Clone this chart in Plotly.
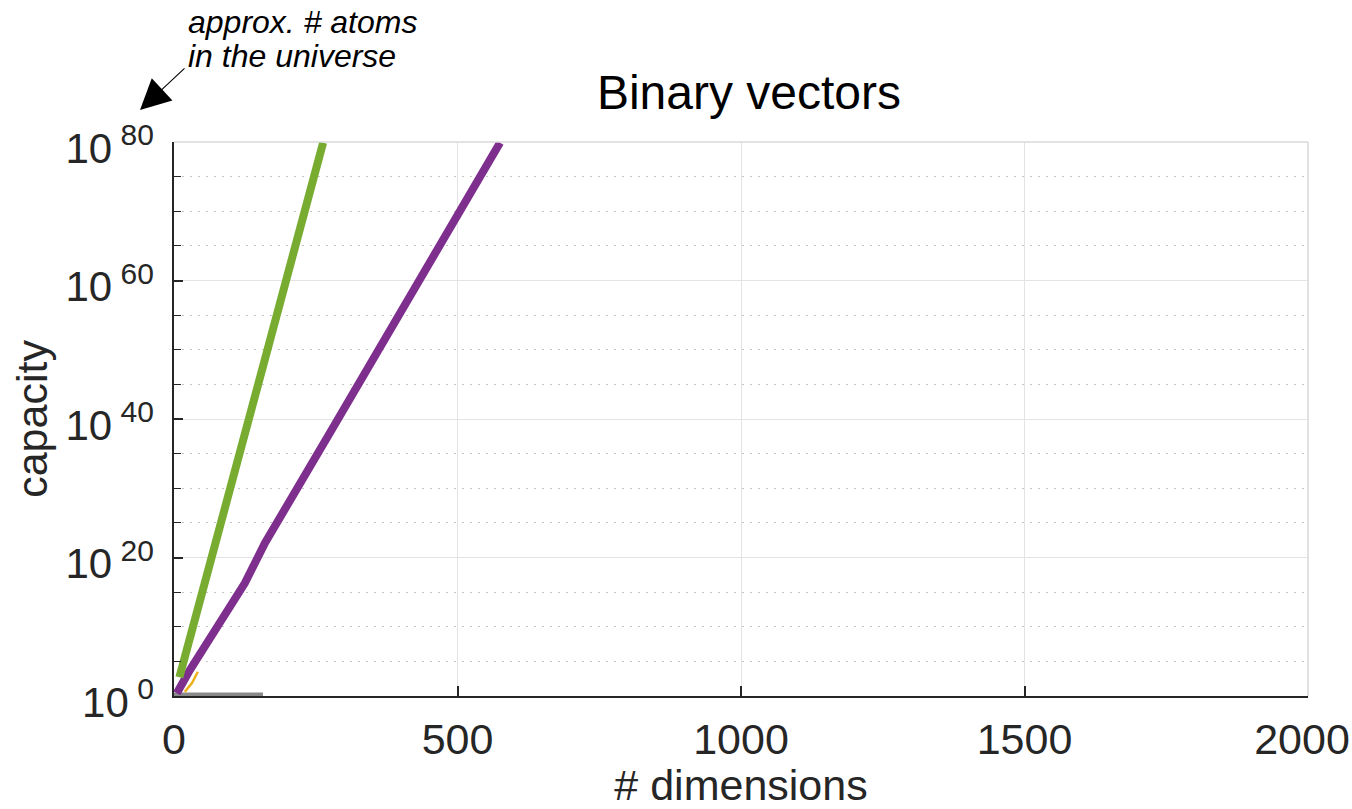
import numpy as np
import plotly.graph_objects as go

# ---- data (x = # dimensions, values as log10(capacity)) ----
green_dims = [9.5, 67, 143, 263]
green_log10 = [2.7, 20.1, 42.8, 79.9]

purple_dims = [5, 28, 125, 160.5, 280, 439, 575]
purple_log10 = [0.4, 3.75, 16.3, 22.1, 38.7, 61.0, 79.9]

orange_dims = [19, 32, 42]
orange_log10 = [0.6, 1.9, 3.5]

gray_dims = [0, 157]
gray_log10 = [0, 0]

x_ticks = [0, 500, 1000, 1500, 2000]
x_ticktext = ["0", "500", "1000", "1500", "2000\u00a0"]
y_major_exp = [0, 20, 40, 60, 80]
y_minor_exp = [e for e in range(0, 81, 5) if e % 20 != 0]

FONT = "Liberation Sans, Arial, sans-serif"
TXT = "#262626"

def pw(v):
    return [float(10.0 ** e) for e in v]

fig = go.Figure()
fig.add_trace(go.Scatter(x=gray_dims, y=pw(gray_log10), mode="lines",
                         line=dict(color="#8a8a8a", width=7), cliponaxis=False,
                         showlegend=False))
fig.add_trace(go.Scatter(x=orange_dims, y=pw(orange_log10), mode="lines",
                         line=dict(color="#EDB120", width=2.5), showlegend=False))
fig.add_trace(go.Scatter(x=purple_dims, y=pw(purple_log10), mode="lines",
                         line=dict(color="#7E2F8E", width=8), showlegend=False))
fig.add_trace(go.Scatter(x=green_dims, y=pw(green_log10), mode="lines",
                         line=dict(color="#77AC30", width=8), showlegend=False))

fig.update_layout(
    width=1352, height=809,
    margin=dict(l=174, r=44, t=142, b=113, autoexpand=False),
    paper_bgcolor="white", plot_bgcolor="white",
    font=dict(family=FONT, color=TXT, size=42),
    title=dict(text="Binary vectors", x=749 / 1352, xanchor="center",
               y=1 - 92 / 809, yanchor="middle",
               font=dict(family=FONT, size=48, color="black")),
    xaxis=dict(
        range=[0, 2000], tickvals=x_ticks, ticktext=x_ticktext,
        automargin=False, ticklabeloverflow="allow",
        showgrid=True, gridcolor="#e3e3e3", gridwidth=1.2,
        zeroline=False, showline=True, linecolor="#262626", linewidth=1.5,
        ticks="inside", ticklen=10, tickwidth=1.5, tickcolor="#262626",
        ticklabelstandoff=5,
        tickfont=dict(size=43, color=TXT),
        title=dict(text="# dimensions", font=dict(size=43, color=TXT), standoff=24),
    ),
    yaxis=dict(
        type="log", range=[0, 80], automargin=False,
        tickvals=pw(y_major_exp),
        ticktext=["10<sup><span style='font-size:30px'> %d</span></sup>" % e
                  for e in y_major_exp],
        showgrid=True, gridcolor="#e3e3e3", gridwidth=1.2,
        zeroline=False, showline=True, linecolor="#262626", linewidth=1.5,
        ticks="inside", ticklen=9, tickwidth=1.5, tickcolor="#262626",
        ticklabelstandoff=10, ticklabelshift=6,
        tickfont=dict(size=42, color=TXT),
        minor=dict(tickvals=pw(y_minor_exp), ticks="inside", ticklen=7,
                   tickcolor="#262626", tickwidth=1.2,
                   showgrid=True, gridcolor="#c4c4c4", griddash="2px,6px", gridwidth=1.3),
        title=dict(text="capacity", font=dict(size=43, color=TXT), standoff=4),
    ),
    shapes=[dict(type="line", xref="paper", yref="paper", x0=0, x1=1, y0=1, y1=1,
                 line=dict(color="#d9d9d9", width=1.5)),
            dict(type="line", xref="paper", yref="paper", x0=1, x1=1, y0=0, y1=1,
                 line=dict(color="#d9d9d9", width=1.5))],
)

# annotation text (two lines, placed individually for tighter line spacing)
for txt, yc in [("approx. # atoms", 22), ("in the universe", 56)]:
    fig.add_annotation(xref="paper", yref="paper",
                       x=(186 - 174) / 1134, y=(696 - yc) / 554,
                       xanchor="left", yanchor="middle", align="left", showarrow=False,
                       text="<i>%s</i>" % txt,
                       font=dict(family=FONT, size=32, color="black"))
# arrow
fig.add_annotation(xref="paper", yref="paper",
                   x=(140 - 174) / 1134, y=(696 - 110) / 554,
                   ax=46, ay=-43, text="", showarrow=True,
                   arrowhead=2, arrowsize=5.5, arrowwidth=1.1, arrowcolor="black")

fig.write_html("out.html",
               config={"displayModeBar": False},
               post_script="document.body.style.margin='0';document.body.style.overflow='hidden';")
